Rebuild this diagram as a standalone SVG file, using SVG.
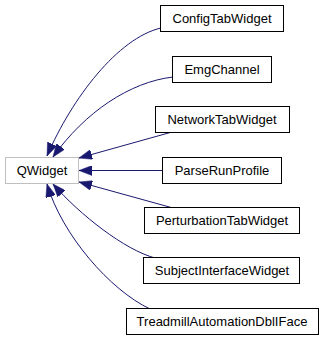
<svg xmlns="http://www.w3.org/2000/svg" width="323" height="341" viewBox="0 0 323 341">
  <style>
    .node rect { fill: #ffffff; stroke: #000000; stroke-width: 1; }
    .node.undoc rect { stroke: #bfbfbf; }
    .node text { font-family: "Liberation Sans", Arial, Helvetica, sans-serif; font-size: 13px; fill: #000000; text-anchor: middle; }
    .edge { fill: none; stroke: #191970; stroke-width: 1; marker-end: url(#arrow); }
  </style>
  <defs>
    <marker id="arrow" markerUnits="userSpaceOnUse" viewBox="0 0 13 10" markerWidth="13" markerHeight="10" refX="13" refY="5" orient="auto">
      <path d="M0,0 L13,5 L0,10 Z" fill="#191970" stroke="#191970" stroke-width="0.5"/>
    </marker>
  </defs>

  <rect width="323" height="341" fill="#ffffff"/>

  <!-- inheritance edges: derived class -> base class -->
  <g id="edges">
    <path class="edge" d="M161,28 C118,38 72,98 47,156"/>
    <path class="edge" d="M173,77 C130,82 85,112 53,157"/>
    <path class="edge" d="M172,132 L79,158"/>
    <path class="edge" d="M162,170.5 L79,170.5"/>
    <path class="edge" d="M173,208 L79,182"/>
    <path class="edge" d="M155,258 C125,250 80,215 53,184"/>
    <path class="edge" d="M150,309 C110,290 62,235 47,184"/>
  </g>

  <g id="QWidget" class="node undoc">
    <rect x="5.5" y="157.5" width="73" height="26"/>
    <text x="42" y="175">QWidget</text>
  </g>

  <g id="ConfigTabWidget" class="node">
    <rect x="160.5" y="5.5" width="123" height="26"/>
    <text x="222" y="23">ConfigTabWidget</text>
  </g>

  <g id="EmgChannel" class="node">
    <rect x="172.5" y="56.5" width="99" height="26"/>
    <text x="222" y="74">EmgChannel</text>
  </g>

  <g id="NetworkTabWidget" class="node">
    <rect x="155.5" y="106.5" width="134" height="26"/>
    <text x="222" y="124">NetworkTabWidget</text>
  </g>

  <g id="ParseRunProfile" class="node">
    <rect x="162.5" y="157.5" width="119" height="26"/>
    <text x="222" y="175">ParseRunProfile</text>
  </g>

  <g id="PerturbationTabWidget" class="node">
    <rect x="144.5" y="207.5" width="155" height="26"/>
    <text x="222" y="225">PerturbationTabWidget</text>
  </g>

  <g id="SubjectInterfaceWidget" class="node">
    <rect x="143.5" y="257.5" width="156" height="26"/>
    <text x="222" y="275">SubjectInterfaceWidget</text>
  </g>

  <g id="TreadmillAutomationDblIFace" class="node">
    <rect x="126.5" y="308.5" width="192" height="26"/>
    <text x="222" y="326">TreadmillAutomationDblIFace</text>
  </g>
</svg>
